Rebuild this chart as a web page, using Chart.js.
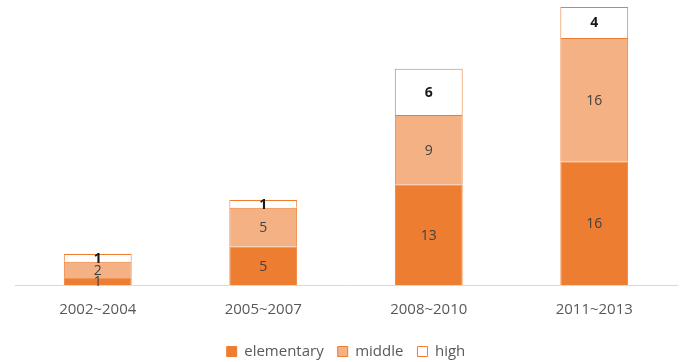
<!DOCTYPE html>
<html>
<head>
<meta charset="utf-8">
<script src="https://cdn.jsdelivr.net/npm/chart.js@4"></script>
<style>
  html, body { margin:0; padding:0; background:#fff; overflow:hidden; }
  #wrap { width:685px; height:369px; position:relative; }
</style>
</head>
<body>
<div id="wrap"><canvas id="chart"></canvas></div>
<script>
const periods    = ['2002~2004', '2005~2007', '2008~2010', '2011~2013'];
const elementary = [1, 5, 13, 16];
const middle     = [2, 5, 9, 16];
const high       = [1, 1, 6, 4];

const FONT = '"Open Sans", sans-serif';

// draw the segment values in the middle of each bar piece
const segLabels = {
  id: 'segLabels',
  afterDatasetsDraw(chart) {
    const ctx = chart.ctx;
    ctx.save();
    ctx.textAlign = 'center';
    ctx.textBaseline = 'middle';
    chart.data.datasets.forEach((ds, i) => {
      const meta = chart.getDatasetMeta(i);
      meta.data.forEach((bar, j) => {
        const mid = (bar.y + bar.base) / 2;
        const isHigh = i === 2;
        ctx.font = (isHigh ? 'bold ' : '') + '14px ' + FONT;
        ctx.fillStyle = isHigh ? '#1a1a1a' : '#404040';
        ctx.fillText(ds.data[j], bar.x, mid + 1);
      });
    });
    ctx.restore();
  }
};

new Chart(document.getElementById('chart'), {
  type: 'bar',
  data: {
    labels: periods,
    datasets: [
      { label:'elementary', data: elementary, backgroundColor:'#ED7D31', borderColor:'#ED7D31', borderWidth:1 },
      { label:'middle',     data: middle,     backgroundColor:'#F4B183', borderColor:'#ED7D31', borderWidth:1 },
      { label:'high',       data: high,       backgroundColor:'#FFFFFF', borderColor:'#ED7D31', borderWidth:1 },
    ],
  },
  options: {
    responsive:true, maintainAspectRatio:false, animation:false,
    layout:{ padding:{ left:15, right:8, top:7, bottom:0 } },
    datasets:{ bar:{ categoryPercentage:1, barPercentage:0.41 } },
    plugins:{
      legend:{ position:'bottom',
        labels:{ boxWidth:10, boxHeight:10, padding:14, color:'#595959',
                 font:{ family:FONT, size:15 } } },
      tooltip:{ enabled:false },
    },
    scales:{
      x:{ stacked:true, grid:{ display:false, drawTicks:false }, border:{ color:'#D9D9D9' },
          ticks:{ color:'#595959', padding:16, font:{ family:FONT, size:15 } },
          afterFit(scale){ scale.height -= 5; } },
      y:{ stacked:true, display:false, min:0, max:36 },
    },
  },
  plugins:[segLabels],
});
</script>
</body>
</html>
